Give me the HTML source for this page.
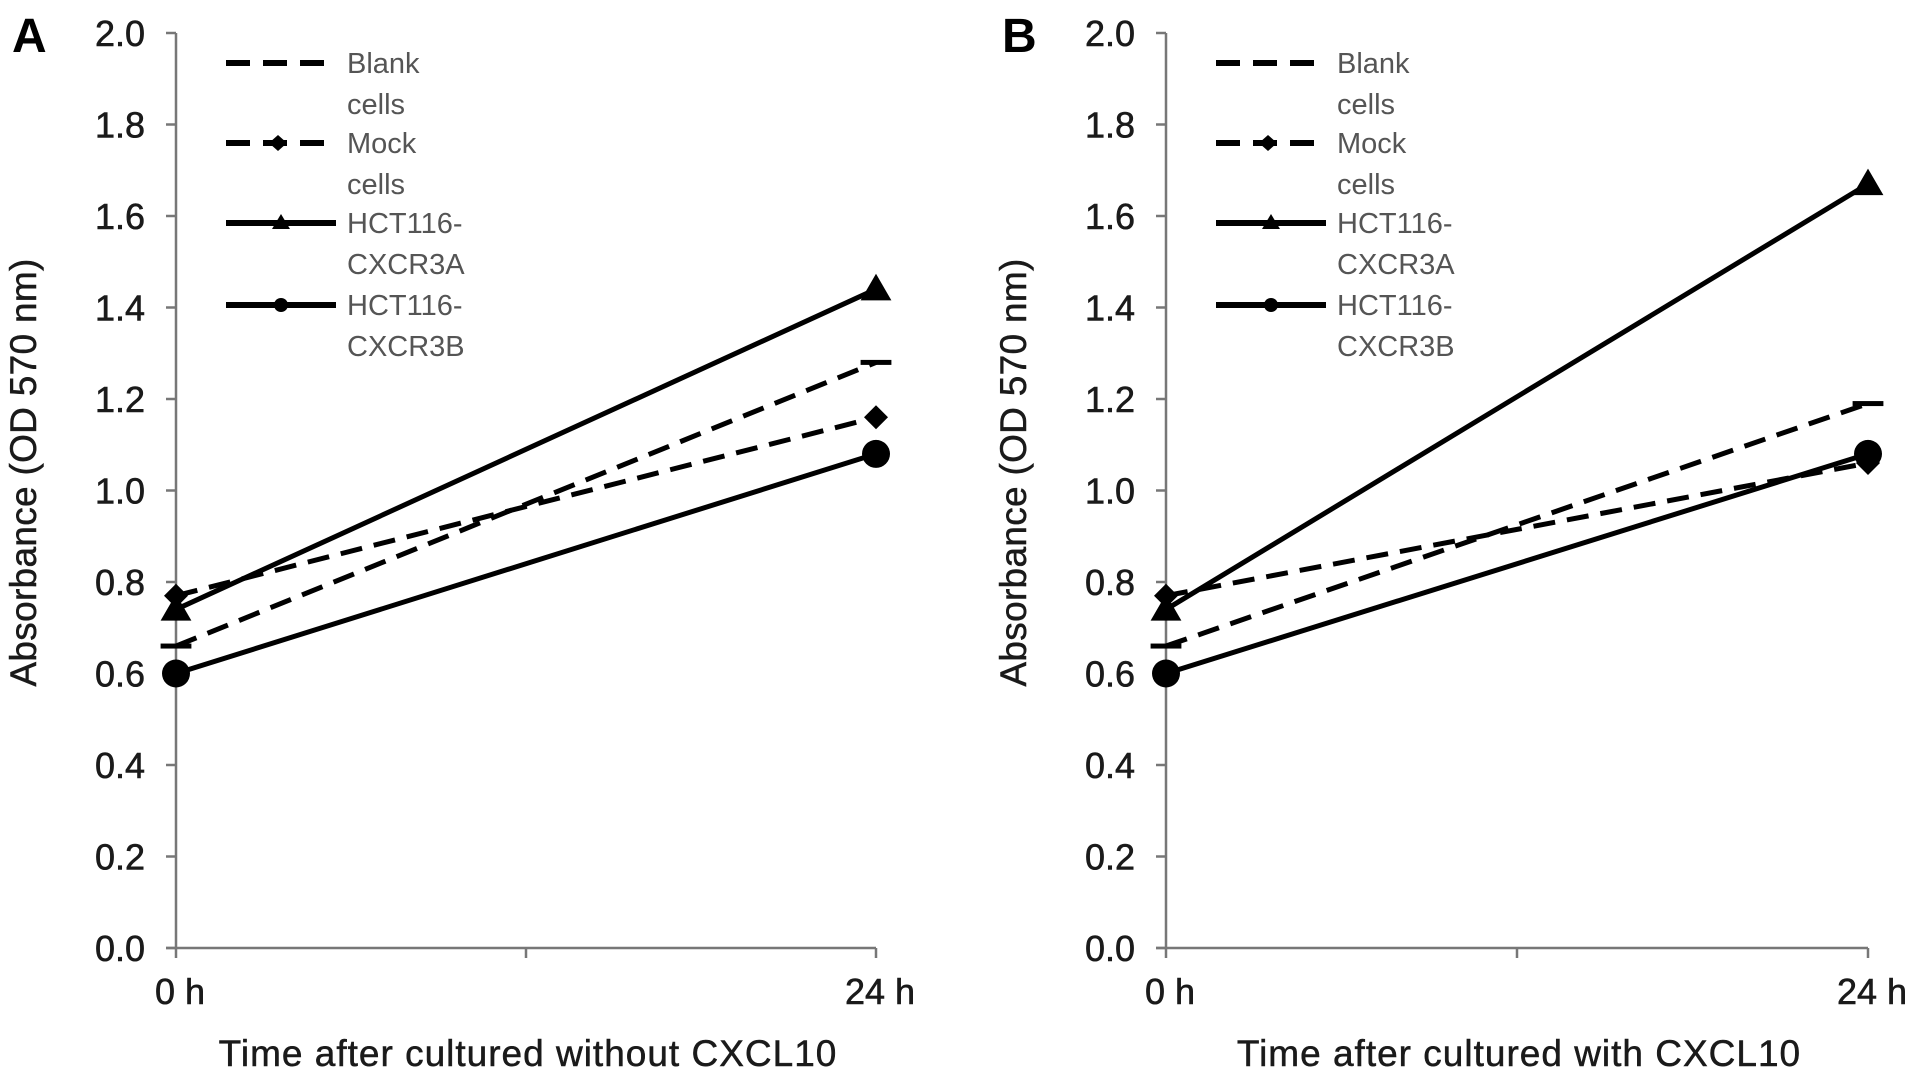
<!DOCTYPE html>
<html><head><meta charset="utf-8"><style>
html,body{margin:0;padding:0;background:#fff;}
svg{display:block;font-family:"Liberation Sans",sans-serif;}
</style></head><body>
<svg id="chart" width="1913" height="1077" viewBox="0 0 1913 1077" xmlns="http://www.w3.org/2000/svg"></svg>
<script>
const categories = ["0 h", "24 h"];
const yTicks = ["0.0","0.2","0.4","0.6","0.8","1.0","1.2","1.4","1.6","1.8","2.0"];
const seriesNames = ["Blank cells", "Mock cells", "HCT116-CXCR3A", "HCT116-CXCR3B"];
const legendLines = [["Blank","cells"],["Mock","cells"],["HCT116-","CXCR3A"],["HCT116-","CXCR3B"]];
const blankA = [0.66, 1.28];
const mockA = [0.77, 1.16];
const cxcr3aA = [0.74, 1.44];
const cxcr3bA = [0.60, 1.08];
const blankB = [0.66, 1.19];
const mockB = [0.77, 1.06];
const cxcr3aB = [0.74, 1.67];
const cxcr3bB = [0.60, 1.08];

const NS = "http://www.w3.org/2000/svg";
const svg = document.getElementById("chart");
function mk(tag, attrs, parent, text){
  const e = document.createElementNS(NS, tag);
  for (const k in attrs) e.setAttribute(k, attrs[k]);
  if (text !== undefined) e.textContent = text;
  (parent || svg).appendChild(e);
  return e;
}
const styles = [
  {dash:"22,12", marker:"bar"},
  {dash:"22,12", marker:"diamond"},
  {dash:null, marker:"tri"},
  {dash:null, marker:"circle"}
];
function marker(g, type, x, y, s){
  let m;
  if (type === "bar") m = mk("rect",{x:x-s*1.1,y:y-2.5,width:s*2.2,height:5,fill:"#000"},g);
  else if (type === "diamond") m = mk("polygon",{points:`${x},${y-s} ${x+s},${y} ${x},${y+s} ${x-s},${y}`,fill:"#000"},g);
  else if (type === "tri") m = mk("polygon",{points:`${x},${y-s*1.1} ${x+s*1.1},${y+s*0.8} ${x-s*1.1},${y+s*0.8}`,fill:"#000"},g);
  else m = mk("circle",{cx:x,cy:y,r:s,fill:"#000"},g);
  
  
}
function panel(opt){
  const {x0, x1, letter, title, data, id} = opt;
  const y0 = 948, yTop = 33;
  const X = i => x0 + (x1 - x0) * i / (categories.length - 1);
  const Y = v => y0 - (y0 - yTop) * v / 2.0;
  const g = mk("g",{});
  
  
  const lab = mk("text",{x:x0-164,y:52,"font-size":48,"font-weight":"bold",fill:"#000"},g,letter);
  
  
  const ya = mk("line",{x1:x0,y1:yTop,x2:x0,y2:y0,stroke:"#777","stroke-width":2.5},g);
  
  
  const xa = mk("line",{x1:x0-10,y1:y0,x2:x1,y2:y0,stroke:"#777","stroke-width":2.5},g);
  
  
  yTicks.forEach(t => {
    const v = parseFloat(t), y = Y(v);
    mk("line",{x1:x0-10,y1:y,x2:x0,y2:y,stroke:"#777","stroke-width":2.5},g);
    const tx = mk("text",{x:x0-31,y:y+13,"font-size":36,"text-anchor":"end",fill:"#1a1a1a","stroke":"#1a1a1a","stroke-width":0.6},g,t);
    
    
  });
  [0,0.5,1].forEach(f => { const x = x0+(x1-x0)*f; mk("line",{x1:x,y1:y0,x2:x,y2:y0+10,stroke:"#777","stroke-width":2.5},g); });
  categories.forEach((c,i) => {
    const tx = mk("text",{x:X(i)+4,y:1004,"font-size":36,"text-anchor":"middle",fill:"#1a1a1a","stroke":"#1a1a1a","stroke-width":0.6},g,c);
    
    
  });
  const xt = mk("text",{x:(x0+x1)/2+2,y:1066,"font-size":37,"text-anchor":"middle",fill:"#1a1a1a","stroke":"#1a1a1a","stroke-width":0.5,"letter-spacing":1},g,title);
  
  
  const yt = mk("text",{x:0,y:0,"font-size":37,"text-anchor":"middle",fill:"#1a1a1a","stroke":"#1a1a1a","stroke-width":0.5,"letter-spacing":0.3,transform:`translate(${x0-140},${(y0+yTop)/2-18}) rotate(-90)`},g,"Absorbance (OD 570 nm)");
  
  
  data.forEach((vals, si) => {
    const st = styles[si];
    const pts = vals.map((v,i)=>`${X(i)},${Y(v)}`).join(" ");
    const pl = mk("polyline",{points:pts,fill:"none",stroke:"#000","stroke-width":5},g);
    if (st.dash) pl.setAttribute("stroke-dasharray", st.dash);
    
    
    vals.forEach((v,i) => marker(g, st.marker, X(i), Y(v), st.marker==="circle"?14:(st.marker==="diamond"?12:14)));
  });
  const lx0 = x0 + 50, lx1 = x0 + 160, tx0 = x0 + 171;
  const rows = [63,143,223,305];
  legendLines.forEach((ll, si) => {
    const st = styles[si];
    const lg = mk("g",{},g);
    
    
    const y = rows[si];
    const l = mk("line",{x1:lx0,y1:y,x2:lx1,y2:y,stroke:"#000","stroke-width":6},lg);
    if (st.dash) { l.setAttribute("stroke-dasharray","24,13"); l.setAttribute("x2", lx1-8); }
    if (st.marker === "diamond") mk("polygon",{points:`${(lx0+lx1)/2-3},${y-8} ${(lx0+lx1)/2+6},${y} ${(lx0+lx1)/2-3},${y+8} ${(lx0+lx1)/2-12},${y}`,fill:"#000"},lg);
    if (st.marker === "tri") mk("polygon",{points:`${(lx0+lx1)/2},${y-9} ${(lx0+lx1)/2+9},${y+6} ${(lx0+lx1)/2-9},${y+6}`,fill:"#000"},lg);
    if (st.marker === "circle") mk("circle",{cx:(lx0+lx1)/2,cy:y,r:7,fill:"#000"},lg);
    mk("text",{x:tx0,y:y+10,"font-size":29,fill:"#555"},lg,ll[0]);
    mk("text",{x:tx0,y:y+51,"font-size":29,fill:"#555"},lg,ll[1]);
  });
}
panel({id:"a", x0:176, x1:876, letter:"A", title:"Time after cultured without CXCL10", data:[blankA,mockA,cxcr3aA,cxcr3bA]});
panel({id:"b", x0:1166, x1:1868, letter:"B", title:"Time after cultured with CXCL10", data:[blankB,mockB,cxcr3aB,cxcr3bB]});
</script>
</body></html>
